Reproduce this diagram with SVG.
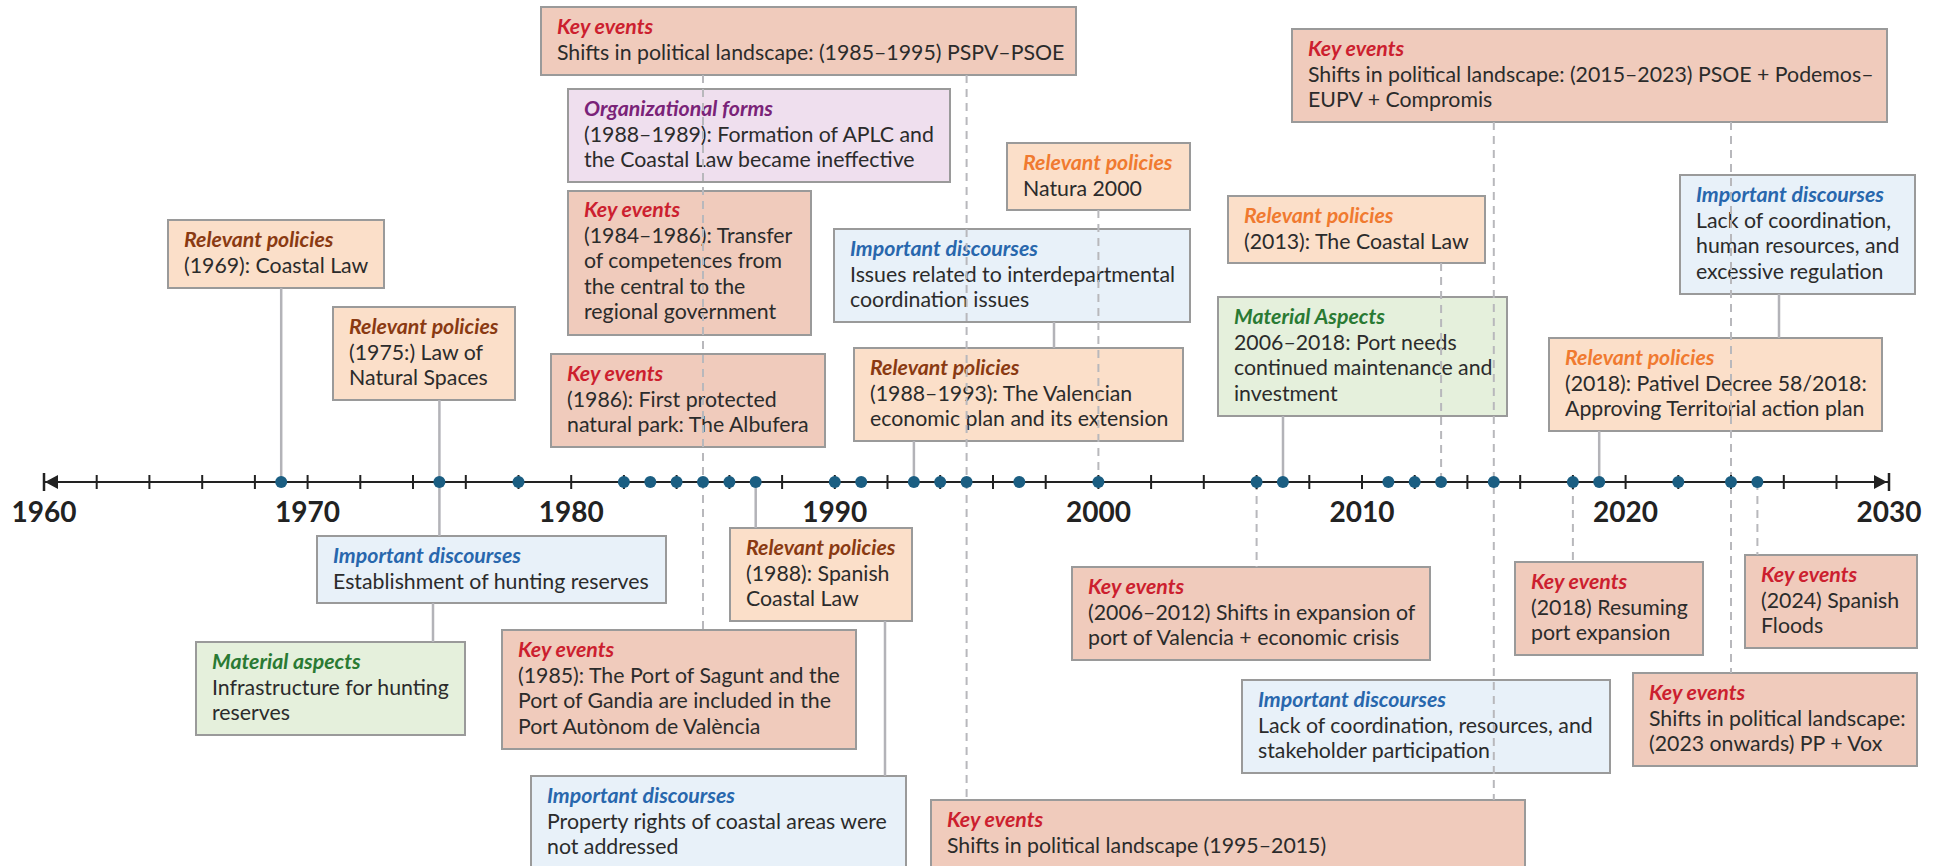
<svg xmlns="http://www.w3.org/2000/svg" width="1942" height="866" viewBox="0 0 1942 866">
<style>
text{font-family:Lato,"Open Sans","Liberation Sans",sans-serif;font-size:21.3px;fill:#2b2b2b}
.h{font-weight:700;font-style:italic}
.ke rect{fill:#f0cbbc}.ke .h{fill:#cc1f2f}
.rp rect{fill:#fbdfc9}.rp .h{fill:#8a3a12}.rp2 .h{fill:#f07a30}
.id rect{fill:#e8f1f9}.id .h{fill:#2867ad}
.ma rect{fill:#e5f0dc}.ma .h{fill:#2a7a33}
.of rect{fill:#efdfee}.of .h{fill:#7a2378}
.node rect{stroke:#9a9a9a;stroke-width:2}
.sl{stroke:#b3b3b8;stroke-width:2.5;fill:none}
.dl{stroke:#b8b8bc;stroke-width:2;stroke-dasharray:8 6;fill:none}
.yr{font-size:28px;font-weight:700;fill:#222;text-anchor:middle}
</style>

<g id="n1" class="node ke"><rect x="541" y="7" width="535" height="68"/><text x="557" y="34"><tspan class="h">Key events</tspan><tspan x="557" y="59.5">Shifts in political landscape: (1985–1995) PSPV–PSOE</tspan></text></g>
<g id="n2" class="node of"><rect x="568" y="89" width="382" height="93"/><text x="584" y="116"><tspan class="h">Organizational forms</tspan><tspan x="584" y="141.5">(1988–1989): Formation of APLC and</tspan><tspan x="584" y="167">the Coastal Law became ineffective</tspan></text></g>
<g id="n3" class="node ke"><rect x="568" y="191" width="243" height="144"/><text x="584" y="217"><tspan class="h">Key events</tspan><tspan x="584" y="242.5">(1984–1986): Transfer</tspan><tspan x="584" y="268">of competences from</tspan><tspan x="584" y="293.5">the central to the</tspan><tspan x="584" y="319">regional government</tspan></text></g>
<g id="n4" class="node ke"><rect x="551" y="354" width="274" height="93"/><text x="567" y="381"><tspan class="h">Key events</tspan><tspan x="567" y="406.5">(1986): First protected</tspan><tspan x="567" y="432">natural park: The Albufera</tspan></text></g>
<g id="n5" class="node rp"><rect x="168" y="220" width="216" height="68"/><text x="184" y="247"><tspan class="h">Relevant policies</tspan><tspan x="184" y="272.5">(1969): Coastal Law</tspan></text></g>
<g id="n6" class="node rp"><rect x="333" y="307" width="182" height="93"/><text x="349" y="334"><tspan class="h">Relevant policies</tspan><tspan x="349" y="359.5">(1975:) Law of</tspan><tspan x="349" y="385">Natural Spaces</tspan></text></g>
<g id="n7" class="node id"><rect x="317" y="536" width="349" height="67"/><text x="333" y="563"><tspan class="h">Important discourses</tspan><tspan x="333" y="588.5">Establishment of hunting reserves</tspan></text></g>
<g id="n8" class="node ma"><rect x="196" y="642" width="269" height="93"/><text x="212" y="669"><tspan class="h">Material aspects</tspan><tspan x="212" y="694.5">Infrastructure for hunting</tspan><tspan x="212" y="720">reserves</tspan></text></g>
<g id="n9" class="node ke"><rect x="502" y="630" width="354" height="119"/><text x="518" y="657"><tspan class="h">Key events</tspan><tspan x="518" y="682.5">(1985): The Port of Sagunt and the</tspan><tspan x="518" y="708">Port of Gandia are included in the</tspan><tspan x="518" y="733.5">Port Autònom de València</tspan></text></g>
<g id="n10" class="node id"><rect x="531" y="776" width="375" height="95"/><text x="547" y="803"><tspan class="h">Important discourses</tspan><tspan x="547" y="828.5">Property rights of coastal areas were</tspan><tspan x="547" y="854">not addressed</tspan></text></g>
<g id="n11" class="node rp"><rect x="730" y="528" width="182" height="93"/><text x="746" y="555"><tspan class="h">Relevant policies</tspan><tspan x="746" y="580.5">(1988): Spanish</tspan><tspan x="746" y="606">Coastal Law</tspan></text></g>
<g id="n12" class="node ke"><rect x="931" y="800" width="594" height="70"/><text x="947" y="827"><tspan class="h">Key events</tspan><tspan x="947" y="852.5">Shifts in political landscape (1995–2015)</tspan></text></g>
<g id="n13" class="node ke"><rect x="1072" y="567" width="358" height="93"/><text x="1088" y="594"><tspan class="h">Key events</tspan><tspan x="1088" y="619.5">(2006–2012) Shifts in expansion of</tspan><tspan x="1088" y="645">port of Valencia + economic crisis</tspan></text></g>
<g id="n14" class="node id"><rect x="1242" y="680" width="368" height="93"/><text x="1258" y="707"><tspan class="h">Important discourses</tspan><tspan x="1258" y="732.5">Lack of coordination, resources, and</tspan><tspan x="1258" y="758">stakeholder participation</tspan></text></g>
<g id="n15" class="node ke"><rect x="1515" y="562" width="188" height="93"/><text x="1531" y="589"><tspan class="h">Key events</tspan><tspan x="1531" y="614.5">(2018) Resuming</tspan><tspan x="1531" y="640">port expansion</tspan></text></g>
<g id="n16" class="node ke"><rect x="1745" y="555" width="172" height="93"/><text x="1761" y="582"><tspan class="h">Key events</tspan><tspan x="1761" y="607.5">(2024) Spanish</tspan><tspan x="1761" y="633">Floods</tspan></text></g>
<g id="n17" class="node ke"><rect x="1633" y="673" width="284" height="93"/><text x="1649" y="700"><tspan class="h">Key events</tspan><tspan x="1649" y="725.5">Shifts in political landscape:</tspan><tspan x="1649" y="751">(2023 onwards) PP + Vox</tspan></text></g>
<g id="n18" class="node ke"><rect x="1292" y="29" width="595" height="93"/><text x="1308" y="56"><tspan class="h">Key events</tspan><tspan x="1308" y="81.5">Shifts in political landscape: (2015–2023) PSOE + Podemos–</tspan><tspan x="1308" y="107">EUPV + Compromis</tspan></text></g>
<g id="n19" class="node rp rp2"><rect x="1007" y="143" width="183" height="67"/><text x="1023" y="170"><tspan class="h">Relevant policies</tspan><tspan x="1023" y="195.5">Natura 2000</tspan></text></g>
<g id="n20" class="node id"><rect x="834" y="229" width="356" height="93"/><text x="850" y="256"><tspan class="h">Important discourses</tspan><tspan x="850" y="281.5">Issues related to interdepartmental</tspan><tspan x="850" y="307">coordination issues</tspan></text></g>
<g id="n21" class="node rp"><rect x="854" y="348" width="329" height="93"/><text x="870" y="375"><tspan class="h">Relevant policies</tspan><tspan x="870" y="400.5">(1988–1993): The Valencian</tspan><tspan x="870" y="426">economic plan and its extension</tspan></text></g>
<g id="n22" class="node rp rp2"><rect x="1228" y="196" width="257" height="67"/><text x="1244" y="223"><tspan class="h">Relevant policies</tspan><tspan x="1244" y="248.5">(2013): The Coastal Law</tspan></text></g>
<g id="n23" class="node ma"><rect x="1218" y="297" width="289" height="119"/><text x="1234" y="324"><tspan class="h">Material Aspects</tspan><tspan x="1234" y="349.5">2006–2018: Port needs</tspan><tspan x="1234" y="375">continued maintenance and</tspan><tspan x="1234" y="400.5">investment</tspan></text></g>
<g id="n24" class="node id"><rect x="1680" y="175" width="235" height="119"/><text x="1696" y="202"><tspan class="h">Important discourses</tspan><tspan x="1696" y="227.5">Lack of coordination,</tspan><tspan x="1696" y="253">human resources, and</tspan><tspan x="1696" y="278.5">excessive regulation</tspan></text></g>
<g id="n25" class="node rp rp2"><rect x="1549" y="338" width="333" height="93"/><text x="1565" y="365"><tspan class="h">Relevant policies</tspan><tspan x="1565" y="390.5">(2018): Pativel Decree 58/2018:</tspan><tspan x="1565" y="416">Approving Territorial action plan</tspan></text></g>

<g id="connectors">
<path class="sl" d="M281.2 288V482M439.4 400V536M433 603V642M755.7 482V528M885 621V776M1054 322V348M913.9 441V482M1283 416V482M1779 294V338M1599.2 431V482"/>
<path class="dl" d="M703 75V630M966.6 75V800M1098.4 210V482M1441.1 263V482M1493.8 122V800M1731 122V673M1256.6 482V567M1572.9 482V562M1757.4 482V555"/>
</g>

<g id="axis">
<path d="M44 482H1889" stroke="#222" stroke-width="2.2"/>
<path d="M44 473V491M1889 473V491" stroke="#222" stroke-width="2.5"/>
<path d="M45 482L58 475V489Z M1887 482L1874 475V489Z" fill="#222"/>
<path stroke="#222" stroke-width="2" d="M96.7 475V489M149.4 475V489M202.2 475V489M254.9 475V489M307.6 475V489M360.3 475V489M413 475V489M465.8 475V489M518.5 475V489M571.2 475V489M623.9 475V489M676.6 475V489M729.4 475V489M782.1 475V489M834.8 475V489M887.5 475V489M940.2 475V489M993 475V489M1045.7 475V489M1098.4 475V489M1151.1 475V489M1203.8 475V489M1256.6 475V489M1309.3 475V489M1362 475V489M1414.7 475V489M1467.4 475V489M1520.2 475V489M1572.9 475V489M1625.6 475V489M1678.3 475V489M1731 475V489M1783.8 475V489M1836.5 475V489"/>
<g fill="#1b5e82">
<circle cx="281.2" cy="482" r="6"/><circle cx="439.4" cy="482" r="6"/><circle cx="518.5" cy="482" r="6"/><circle cx="623.9" cy="482" r="6"/><circle cx="650.3" cy="482" r="6"/><circle cx="676.6" cy="482" r="6"/><circle cx="703" cy="482" r="6"/><circle cx="729.4" cy="482" r="6"/><circle cx="755.7" cy="482" r="6"/><circle cx="834.8" cy="482" r="6"/><circle cx="861.2" cy="482" r="6"/><circle cx="913.9" cy="482" r="6"/><circle cx="940.2" cy="482" r="6"/><circle cx="966.6" cy="482" r="6"/><circle cx="1019.3" cy="482" r="6"/><circle cx="1098.4" cy="482" r="6"/><circle cx="1256.6" cy="482" r="6"/><circle cx="1282.9" cy="482" r="6"/><circle cx="1388.4" cy="482" r="6"/><circle cx="1414.7" cy="482" r="6"/><circle cx="1441.1" cy="482" r="6"/><circle cx="1493.8" cy="482" r="6"/><circle cx="1572.9" cy="482" r="6"/><circle cx="1599.2" cy="482" r="6"/><circle cx="1678.3" cy="482" r="6"/><circle cx="1731" cy="482" r="6"/><circle cx="1757.4" cy="482" r="6"/>
</g>
<text class="yr" x="44" y="522">1960</text><text class="yr" x="307.6" y="522">1970</text><text class="yr" x="571.2" y="522">1980</text><text class="yr" x="834.8" y="522">1990</text><text class="yr" x="1098.4" y="522">2000</text><text class="yr" x="1362" y="522">2010</text><text class="yr" x="1625.6" y="522">2020</text><text class="yr" x="1889" y="522">2030</text>
</g>
</svg>
